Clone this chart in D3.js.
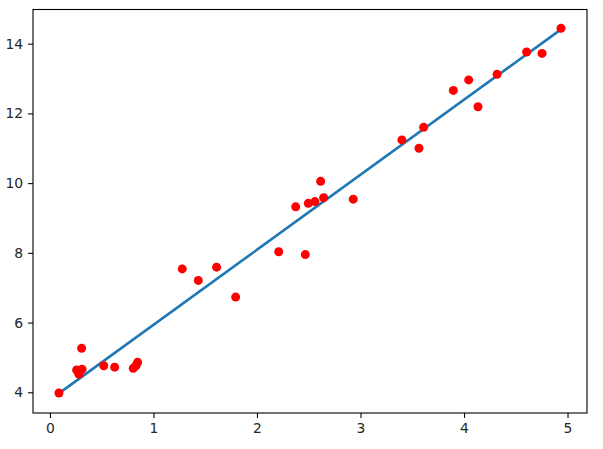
<!DOCTYPE html>
<html>
<head>
<meta charset="utf-8">
<script src="https://cdn.jsdelivr.net/npm/d3@7"></script>
<style>
  body { margin: 0; background: #fff; }
  svg { display: block; }
  .tick text { font-family: "DejaVu Sans", sans-serif; font-size: 13.9px; fill: #262626; }
</style>
</head>
<body>
<div id="chart"></div>
<script>
// scatter points
const xs = [0.087, 0.258, 0.28, 0.31, 0.306, 0.52, 0.625, 0.805, 0.831, 0.847,
            1.278, 1.433, 1.61, 1.794, 2.21, 2.467, 2.374, 2.496, 2.56, 2.615,
            2.644, 2.93, 3.40, 3.565, 3.61, 3.897, 4.045, 4.135, 4.319, 4.605,
            4.754, 4.937];
const ys = [3.98, 4.64, 4.52, 4.66, 5.26, 4.76, 4.72, 4.69, 4.76, 4.86,
            7.54, 7.21, 7.59, 6.73, 8.03, 7.95, 9.32, 9.42, 9.47, 10.05,
            9.58, 9.54, 11.24, 11.00, 11.60, 12.66, 12.96, 12.19, 13.12, 13.76,
            13.72, 14.44];
// fitted line endpoints
const fitX = [0.087, 4.937];
const fitY = [3.97, 14.41];
const xTicks = [0, 1, 2, 3, 4, 5];
const yTicks = [4, 6, 8, 10, 12, 14];

const width = 603, height = 449;
const margin = {left: 33, right: 16, top: 9.5, bottom: 36};

const svg = d3.select("#chart").append("svg")
  .attr("width", width)
  .attr("height", height);

const x = d3.scaleLinear().domain([-0.1636, 5.188]).range([margin.left, width - margin.right]);
const y = d3.scaleLinear().domain([3.406, 14.98]).range([height - margin.bottom, margin.top]);

// regression line
const line = d3.line().x(d => x(d[0])).y(d => y(d[1]));
svg.append("path")
  .datum(d3.zip(fitX, fitY))
  .attr("d", line)
  .attr("fill", "none")
  .attr("stroke", "#1f77b4")
  .attr("stroke-width", 2.6);

// points
svg.append("g")
  .selectAll("circle")
  .data(d3.zip(xs, ys))
  .join("circle")
    .attr("cx", d => x(d[0]))
    .attr("cy", d => y(d[1]))
    .attr("r", 4.5)
    .attr("fill", "#ff0000");

// frame
svg.append("rect")
  .attr("x", margin.left)
  .attr("y", margin.top)
  .attr("width", width - margin.right - margin.left)
  .attr("height", height - margin.bottom - margin.top)
  .attr("fill", "none")
  .attr("stroke", "#000")
  .attr("stroke-width", 1.1);

const xAxis = svg.append("g")
  .attr("transform", `translate(0,${height - margin.bottom})`)
  .call(d3.axisBottom(x).tickValues(xTicks).tickFormat(d3.format("d")).tickSize(4.9).tickPadding(4.9));
const yAxis = svg.append("g")
  .attr("transform", `translate(${margin.left},0)`)
  .call(d3.axisLeft(y).tickValues(yTicks).tickFormat(d3.format("d")).tickSize(4.9).tickPadding(4.9));

[xAxis, yAxis].forEach(a => {
  a.select(".domain").remove();
  a.selectAll(".tick line").attr("stroke", "#000").attr("stroke-width", 1.1);
  a.attr("font-family", null).attr("font-size", null);
});
</script>
</body>
</html>
